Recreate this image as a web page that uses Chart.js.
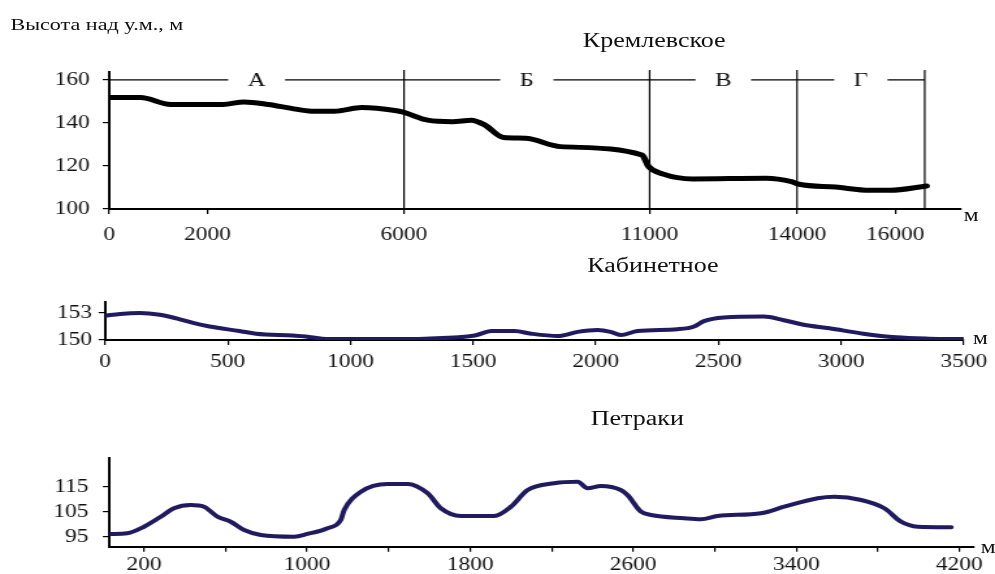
<!DOCTYPE html>
<html lang="ru">
<head>
<meta charset="utf-8">
<title>Продольные профили рек</title>
<script src="https://cdn.jsdelivr.net/npm/chart.js@4/dist/chart.umd.min.js"></script>
<style>
  html, body { margin: 0; background: #fff; }
  body { width: 995px; height: 574px; overflow: hidden; }
  /* the sheet is laid out narrow and widened as a whole, type included */
  #sheet { position: relative; width: 765px; height: 574px; transform: scaleX(1.3007); transform-origin: 0 0; }
  .box { position: absolute; left: 0; }
  .txt { position: absolute; font-family: "Liberation Serif", "Times New Roman", serif; line-height: 1; white-space: nowrap; color: #111; }
  .ttl { font-size: 20px; transform: translateX(-50%); }
  .unit { font-size: 18px; }
</style>
</head>
<body>
<div id="sheet">
  <div class="txt" style="left:8px;top:16px;font-size:17px">Высота над у.м., м</div>
  <div class="txt ttl" style="left:503px;top:30px">Кремлевское</div>
  <div class="txt ttl" style="left:502px;top:255px">Кабинетное</div>
  <div class="txt ttl" style="left:490px;top:408px">Петраки</div>
  <div class="txt unit" style="left:741px;top:206px">м</div>
  <div class="txt unit" style="left:748px;top:329px">м</div>
  <div class="txt unit" style="left:754px;top:538px">м</div>
  <canvas id="kreml" class="box" style="top:0" width="765" height="250"></canvas>
  <canvas id="kabin" class="box" style="top:250px" width="765" height="130"></canvas>
  <canvas id="petr" class="box" style="top:380px" width="765" height="194"></canvas>
</div>
<script>
(function () {
  "use strict";

  // Кремлевское: distance (m) / height (m)
  var KREML_X = [0, 635, 1249, 2314, 2744, 3236, 3707, 4116, 4587, 5140, 5816, 6000, 6483, 6985, 7371, 7641,
    8027, 8471, 9185, 10846, 10981, 11269, 11873, 13373, 13888, 14045, 14784, 15485, 15897, 16639];
  var KREML_H = [151.8, 151.8, 148.6, 148.6, 149.8, 148.6, 146.8, 145.5, 145.5, 147.2, 145.8, 144.9, 141.3, 140.6, 141.3, 139.1,
    133.2, 132.9, 129.0, 125.1, 119.7, 116.3, 114.0, 114.3, 112.7, 111.5, 110.2, 108.7, 108.7, 110.7];
  var KREML_XTICKS = [0, 2000, 6000, 11000, 14000, 16000];
  var KREML_YTICKS = [100, 120, 140, 160];
  // участки А–Г и их границы
  var SEG_BOUNDS = [0, 6000, 11000, 14000, 16600];
  var SEG_NAMES = ["А", "Б", "В", "Г"];
  var SEG_LEVEL = 160;

  // Кабинетное
  var KABIN_X = [0, 61, 142, 223, 291, 358, 426, 547, 615, 764, 818, 885, 966, 1169, 1304, 1507, 1575, 1669, 1737,
    1845, 1926, 2007, 2060, 2101, 2170, 2332, 2401, 2441, 2522, 2684, 2766, 2847, 2952, 3090, 3224, 3358, 3496];
  var KABIN_H = [152.7, 152.9, 153.0, 152.8, 152.4, 151.9, 151.5, 151.0, 150.7, 150.5, 150.4, 150.15, 150.1, 150.1, 150.15, 150.5, 151.0, 151.0, 150.7,
    150.45, 150.9, 151.1, 150.9, 150.55, 151.0, 151.2, 151.5, 152.1, 152.5, 152.6, 152.2, 151.7, 151.3, 150.7, 150.3, 150.15, 150.1];
  var KABIN_XTICKS = [0, 500, 1000, 1500, 2000, 2500, 3000, 3500];
  var KABIN_YTICKS = [150, 153];

  // Петраки
  var PETR_X = [33, 118, 200, 282, 347, 429, 494, 560, 625, 691, 773, 936, 1002, 1100, 1165, 1182, 1264, 1395, 1493, 1591,
    1656, 1754, 1918, 2000, 2082, 2212, 2327, 2376, 2441, 2539, 2572, 2638, 2687, 2850, 2932, 3014, 3227, 3341, 3505,
    3587, 3718, 3832, 3914, 3996, 4160];
  var PETR_H = [96.2, 96.5, 99.1, 103.1, 106.5, 107.8, 107.1, 103.1, 101.1, 97.8, 95.8, 95.1, 96.2, 98.5, 101.8, 105.8, 113.1, 116.2, 116.2, 112.5,
    106.5, 103.4, 103.4, 107.1, 113.8, 116.5, 117.1, 114.5, 115.4, 113.8, 111.8, 105.1, 103.8, 102.5, 102.1, 103.4, 104.5, 107.1, 110.5,
    111.1, 109.8, 106.5, 101.1, 99.1, 98.9];
  var PETR_XTICKS = [200, 600, 1000, 1400, 1800, 2200, 2600, 3000, 3400, 3800, 4200];
  var PETR_XLABELS = [200, 1000, 1800, 2600, 3400, 4200];
  var PETR_YTICKS = [95, 105, 115];

  var FONT = "'Liberation Serif', 'Times New Roman', serif";

  function pts(xs, ys) { return xs.map(function (x, i) { return { x: x, y: ys[i] }; }); }
  function fixTicks(list) { return function (s) { s.ticks = list.map(function (v) { return { value: v }; }); }; }
  function only(list) { return function (v) { return list.indexOf(v) >= 0 ? String(v) : ""; }; }

  function axis(o) {
    return {
      type: "linear", min: o.min, max: o.max,
      afterBuildTicks: fixTicks(o.ticks),
      afterFit: o.fit,
      grid: { display: true, drawOnChartArea: false, drawTicks: true, tickLength: 5, color: "#000", lineWidth: 1.2 },
      border: { display: true, color: "#000", width: o.bw || 2 },
      ticks: { autoSkip: false, maxRotation: 0, minRotation: 0, padding: o.pad, color: "#111",
        font: { family: FONT, size: 18 }, callback: o.cb || function (v) { return String(v); } }
    };
  }

  function profile(id, c) {
    return new Chart(document.getElementById(id), {
      type: "line",
      data: { datasets: [{ data: pts(c.xs, c.ys), borderColor: c.color, borderWidth: c.lw, pointRadius: 0,
        cubicInterpolationMode: "monotone", borderCapStyle: "round", borderJoinStyle: "round", fill: false }] },
      options: {
        responsive: false, animation: false, events: [],
        layout: { padding: { top: c.padTop, right: c.padRight, left: 0, bottom: 0 } },
        plugins: { legend: { display: false }, tooltip: { enabled: false }, title: { display: false } },
        scales: {
          x: axis({ min: c.xMin, max: c.xMax, ticks: c.xTicks, pad: c.xPad, cb: c.xCb,
            fit: function (s) { s.height = c.xAxisH; } }),
          y: axis({ min: c.yMin, max: c.yMax, ticks: c.yTicks, pad: c.yPad,
            fit: function (s) { s.width = c.yAxisW; } })
        }
      },
      plugins: c.extra ? [c.extra] : []
    });
  }

  // горизонталь с буквами участков и вертикальные границы
  var segments = {
    id: "segments",
    beforeDatasetsDraw: function (chart) {
      var ctx = chart.ctx, xs = chart.scales.x, ys = chart.scales.y, a = chart.chartArea;
      var yL = ys.getPixelForValue(SEG_LEVEL);
      ctx.save();
      ctx.strokeStyle = "#000";
      ctx.lineWidth = 1.2;
      ctx.fillStyle = "#111";
      ctx.font = "19px " + FONT;
      ctx.textAlign = "center";
      ctx.textBaseline = "middle";
      SEG_BOUNDS.forEach(function (b, i) {
        if (i === 0) return;
        var x = xs.getPixelForValue(b);
        ctx.beginPath(); ctx.moveTo(x, a.top - 2); ctx.lineTo(x, a.bottom); ctx.stroke();
      });
      SEG_NAMES.forEach(function (name, i) {
        var x0 = xs.getPixelForValue(SEG_BOUNDS[i]), x1 = xs.getPixelForValue(SEG_BOUNDS[i + 1]);
        var xm = (x0 + x1) / 2, gap = ctx.measureText(name).width / 2 + 15;
        ctx.beginPath();
        ctx.moveTo(x0, yL); ctx.lineTo(xm - gap, yL);
        ctx.moveTo(xm + gap, yL); ctx.lineTo(x1, yL);
        ctx.stroke();
        ctx.fillText(name, xm, yL + 1);
      });
      ctx.restore();
    }
  };

  profile("kreml", {
    xs: KREML_X, ys: KREML_H, color: "#000", lw: 5,
    xMin: 0, xMax: 17330, xTicks: KREML_XTICKS, xPad: 10, xAxisH: 41,
    yMin: 100, yMax: 163.7, yTicks: KREML_YTICKS, yPad: 10, yAxisW: 84,
    padTop: 72, padRight: 26.5, extra: segments
  });

  profile("kabin", {
    xs: KABIN_X, ys: KABIN_H, color: "#201a60", lw: 4,
    xMin: 0, xMax: 3500, xTicks: KABIN_XTICKS, xPad: 6, xAxisH: 40,
    yMin: 150, yMax: 154.26, yTicks: KABIN_YTICKS, yPad: 5, yAxisW: 80.8,
    padTop: 51.7, padRight: 21.2
  });

  profile("petr", {
    xs: PETR_X, ys: PETR_H, color: "#201a60", lw: 4,
    xMin: 30, xMax: 4270, xTicks: PETR_XTICKS, xCb: only(PETR_XLABELS), xPad: 2.5, xAxisH: 27.3,
    yMin: 91.1, yMax: 126.6, yTicks: PETR_YTICKS, yPad: 11, yAxisW: 84.1,
    padTop: 78, padRight: 16.5
  });
})();
</script>
</body>
</html>
